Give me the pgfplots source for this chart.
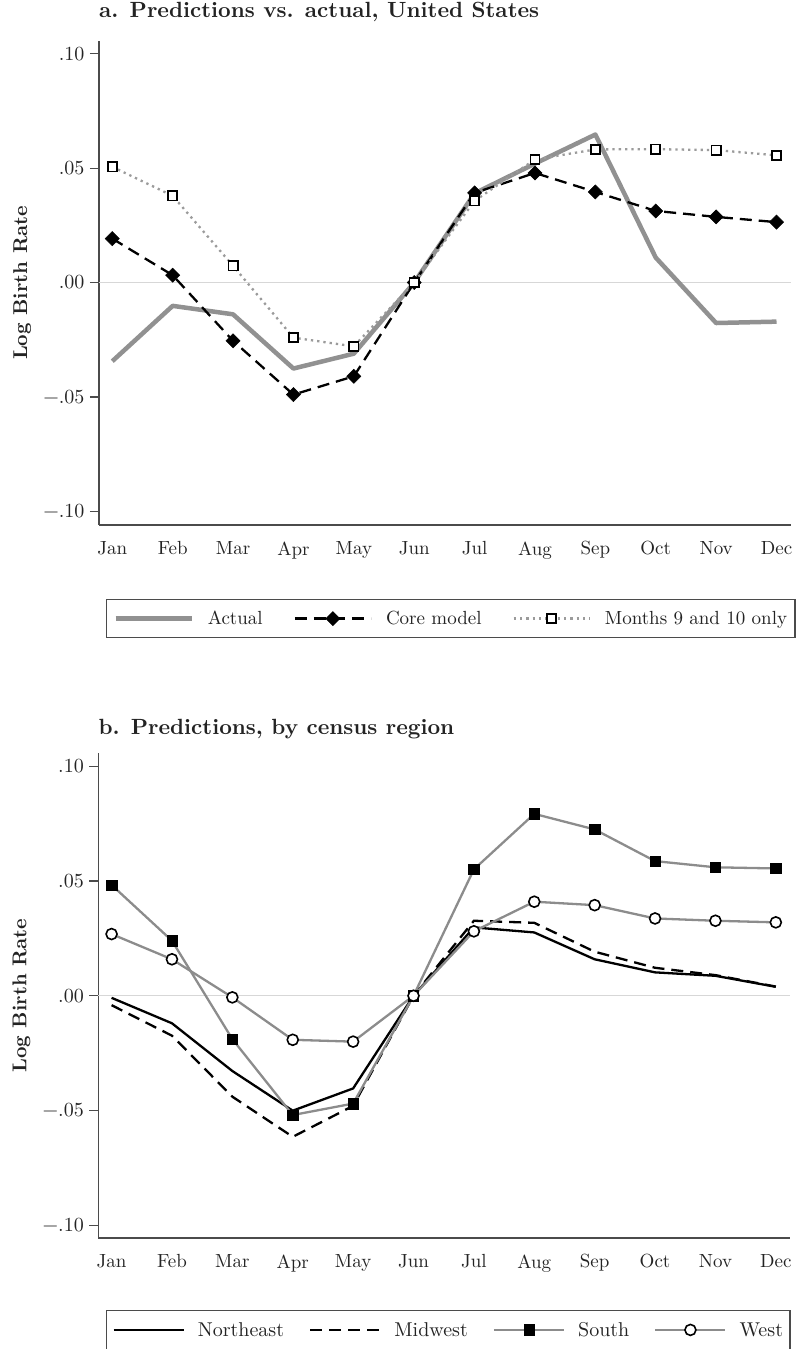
\documentclass[border=0pt]{standalone}
\usepackage{fontspec}
\setmainfont{lmroman10-regular}[Extension=.otf, BoldFont=lmroman10-bold, ItalicFont=lmroman10-italic]
\usepackage{pgfplots}
\pgfplotsset{compat=1.18}
\usepackage{pgfplotstable}
\definecolor{actgray}{RGB}{145,145,145}
\definecolor{dotgray}{RGB}{155,155,155}
\definecolor{reggray}{RGB}{140,140,140}
\definecolor{axgray}{RGB}{75,75,75}
\definecolor{zerogray}{RGB}{215,215,215}
\definecolor{txt}{RGB}{35,35,35}

\pgfplotstableread{
month actual core mten
1 -0.0344 0.0192 0.0506
2 -0.0102 0.0032 0.0379
3 -0.0139 -0.0255 0.0073
4 -0.0376 -0.0490 -0.0241
5 -0.0311 -0.0410 -0.0279
6 0 0 0
7 0.0390 0.0392 0.0357
8 0.0520 0.0479 0.0538
9 0.0647 0.0396 0.0582
10 0.0109 0.0313 0.0583
11 -0.0177 0.0287 0.0579
12 -0.0171 0.0264 0.0556
}\tabA

\pgfplotstableread{
month ne mw south west
1 -0.0009 -0.0041 0.0483 0.0269
2 -0.0120 -0.0174 0.0240 0.0159
3 -0.0328 -0.0440 -0.0189 -0.0007
4 -0.0501 -0.0615 -0.0520 -0.0192
5 -0.0404 -0.0480 -0.0470 -0.0200
6 0 0 0 0
7 0.0298 0.0327 0.0551 0.0281
8 0.0276 0.0318 0.0793 0.0410
9 0.0159 0.0192 0.0725 0.0395
10 0.0102 0.0122 0.0587 0.0337
11 0.0087 0.0090 0.0560 0.0327
12 0.0039 0.0040 0.0555 0.0320
}\tabB

\pgfplotsset{
  stataaxis/.style={
    scale only axis, width=692pt, height=484pt,
    xmin=0.78, xmax=12.24, ymin=-0.106, ymax=0.1056,
    axis lines=left, axis line style={-, axgray, line width=1.6pt},
    xtick={1,...,12},
    xticklabels={Jan,Feb,Mar,Apr,May,Jun,Jul,Aug,Sep,Oct,Nov,Dec},
    ytick={-0.1,-0.05,0,0.05,0.1},
    yticklabels={−.10,−.05,.00,.05,.10},
    tick align=outside, major tick length=9pt,
    every tick/.style={axgray, line width=1.3pt},
    every x tick/.append style={draw=none},
    every major x tick/.append style={draw=none},
    tick label style={font=\fontsize{19}{22}\selectfont, text=txt},
    xticklabel style={yshift=-4pt},
    yticklabel style={xshift=-2pt, font=\fontsize{20}{22}\selectfont},
    ylabel={Log Birth Rate},
    ylabel style={font=\fontsize{20}{24}\selectfont\bfseries, text=txt,
      at={(axis description cs:-0.111,0.5)}, anchor=center},
    title style={font=\fontsize{22}{26}\selectfont\bfseries, text=txt,
      at={(axis description cs:0,1)}, anchor=base west, inner xsep=0pt},
    legend cell align=left,
    legend style={draw=axgray, line width=1.2pt, text=txt,
      font=\fontsize{20}{24}\selectfont, anchor=north west,
      inner xsep=6pt, inner ysep=10.5pt, column sep=0pt,
      nodes={inner sep=1pt}},
    /tikz/every odd column/.append style={column sep=12pt},
    clip=false,
  }
}

\begin{document}
\begin{tikzpicture}
\useasboundingbox (0,0) rectangle (809pt,1349pt);
% Panel a
\begin{axis}[stataaxis, at={(99pt,824pt)}, anchor=south west,
  title={a. Predictions vs. actual, United States},
  title style={yshift=17pt},
  legend columns=3,
  legend style={at={(axis description cs:0.0097,-0.1529)},
    font=\fontsize{19}{22}\selectfont, inner xsep=7pt},
  /tikz/every odd column/.append style={column sep=13pt},
  /tikz/every even column/.append style={column sep=30pt},
  legend image code/.code={\draw[mark repeat=2,mark phase=2]
      plot coordinates {(0pt,0pt) (38pt,0pt) (76pt,0pt)};}]
\addplot[zerogray, line width=1pt, forget plot] coordinates {(0.78,0) (12.24,0)};
\addplot[actgray, line width=4.5pt, line join=round] table[x=month, y=actual] {\tabA};
\addlegendentry{Actual}
\addplot[black, line width=2.3pt, dash pattern=on 12pt off 7pt,
  mark=square*, mark size=5pt, mark options={rotate=45, solid, fill=black, line width=0.5pt}]
  table[x=month, y=core] {\tabA};
\addlegendentry{Core model}
\addplot[dotgray, line width=2.3pt, dash pattern=on 2.3pt off 4pt,
  mark=square*, mark size=4.6pt, mark options={solid, draw=black, fill=white, line width=1.7pt}]
  table[x=month, y=mten] {\tabA};
\addlegendentry{Months 9 and 10 only}
\end{axis}

% Panel b
\begin{axis}[stataaxis, at={(98.3pt,111pt)}, anchor=south west, height=484.7pt,
  ymin=-0.1056, ymax=0.1057,
  title={b. Predictions, by census region},
  title style={yshift=13pt},
  legend columns=4,
  legend style={at={(axis description cs:0.011,-0.1486)}},
  /tikz/every even column/.append style={column sep=24pt},
  legend image code/.code={\draw[mark repeat=2,mark phase=2]
      plot coordinates {(0pt,0pt) (35pt,0pt) (70pt,0pt)};}]
\addplot[zerogray, line width=1pt, forget plot] coordinates {(0.78,0) (12.24,0)};
\addplot[black, line width=2.3pt] table[x=month, y=ne] {\tabB};
\addlegendentry{Northeast}
\addplot[black, line width=2.3pt, dash pattern=on 12pt off 7pt] table[x=month, y=mw] {\tabB};
\addlegendentry{Midwest}
\addplot[reggray, line width=2.3pt, mark=square*, mark size=5.2pt,
  mark options={draw=black, fill=black, line width=0.5pt}] table[x=month, y=south] {\tabB};
\addlegendentry{South}
\addplot[reggray, line width=2.3pt, mark=*, mark size=5.5pt,
  mark options={draw=black, fill=white, line width=1.6pt}] table[x=month, y=west] {\tabB};
\addlegendentry{West}
\end{axis}
\end{tikzpicture}
\end{document}
